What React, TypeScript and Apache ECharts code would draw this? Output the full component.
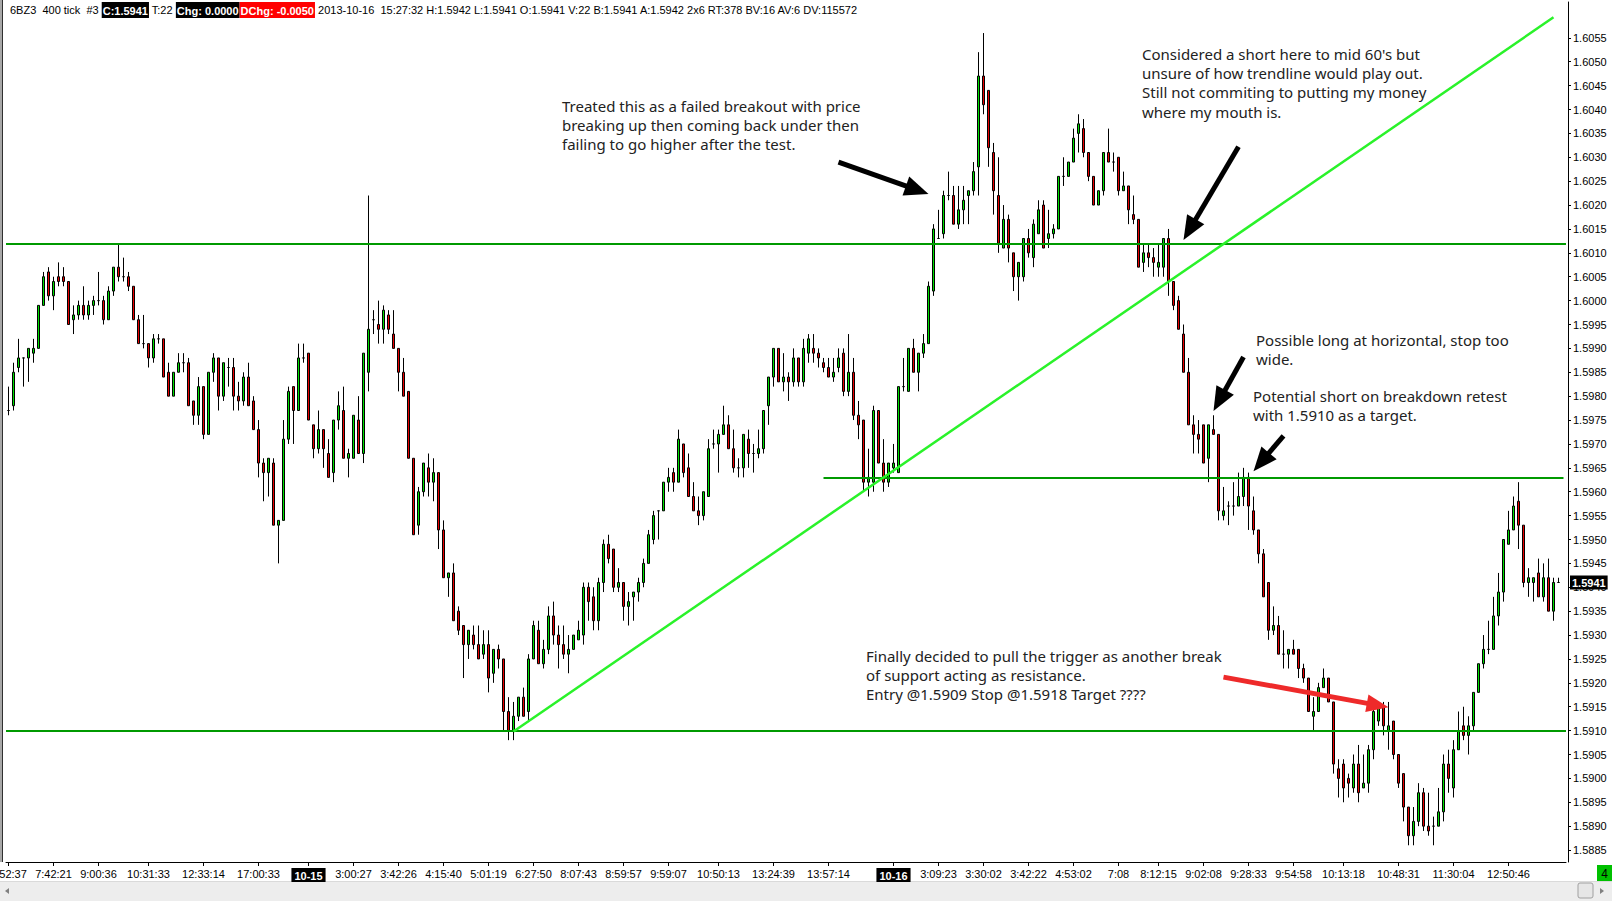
import React, { useEffect, useRef } from 'react';
import * as echarts from 'echarts';

const opens = [
  1.5977,1.5978,1.5986,1.5988,1.5988,1.5989,1.5990,1.5999,1.6006,1.6001,
  1.6005,1.6005,1.6004,1.5996,1.5997,1.5999,1.5997,1.5999,1.6000,1.6000,
  1.5996,1.6002,1.6007,1.6005,1.6005,1.6003,1.5996,1.5991,1.5991,1.5988,
  1.5992,1.5992,1.5985,1.5980,1.5985,1.5987,1.5987,1.5979,1.5976,1.5982,
  1.5972,1.5985,1.5988,1.5980,1.5986,1.5986,1.5980,1.5979,1.5984,1.5979,
  1.5973,1.5966,1.5964,1.5966,1.5953,1.5954,1.5971,1.5982,1.5977,1.5988,
  1.5989,1.5974,1.5969,1.5973,1.5968,1.5964,1.5975,1.5977,1.5967,1.5967,
  1.5975,1.5968,1.5985,1.5996,1.5995,1.5994,1.5997,1.5993,1.5990,1.5985,
  1.5981,1.5967,1.5953,1.5960,1.5965,1.5962,1.5964,1.5952,1.5942,1.5943,
  1.5935,1.5932,1.5928,1.5930,1.5928,1.5926,1.5928,1.5922,1.5927,1.5925,
  1.5914,1.5910,1.5913,1.5917,1.5914,1.5925,1.5931,1.5924,1.5927,1.5934,
  1.5930,1.5928,1.5926,1.5927,1.5929,1.5930,1.5940,1.5938,1.5933,1.5941,
  1.5949,1.5948,1.5940,1.5941,1.5936,1.5938,1.5939,1.5941,1.5945,1.5950,
  1.5956,1.5956,1.5962,1.5964,1.5962,1.5970,1.5965,1.5959,1.5956,1.5955,
  1.5959,1.5970,1.5970,1.5972,1.5974,1.5969,1.5965,1.5965,1.5971,1.5968,
  1.5968,1.5969,1.5978,1.5984,1.5990,1.5983,1.5984,1.5983,1.5988,1.5983,
  1.5989,1.5990,1.5989,1.5987,1.5986,1.5984,1.5986,1.5989,1.5981,1.5985,
  1.5976,1.5975,1.5962,1.5962,1.5977,1.5966,1.5962,1.5965,1.5964,1.5982,
  1.5981,1.5990,1.5985,1.5989,1.5991,1.6002,1.6013,1.6014,1.6022,1.6022,
  1.6016,1.6019,1.6022,1.6023,1.6028,1.6047,1.6044,1.6031,1.6022,1.6011,
  1.6017,1.6010,1.6005,1.6005,1.6013,1.6009,1.6014,1.6020,1.6013,1.6014,
  1.6015,1.6026,1.6026,1.6029,1.6035,1.6036,1.6031,1.6026,1.6020,1.6023,
  1.6031,1.6029,1.6030,1.6023,1.6024,1.6018,1.6017,1.6008,1.6010,1.6009,
  1.6007,1.6007,1.6013,1.6004,1.6000,1.5993,1.5985,1.5974,1.5972,1.5974,
  1.5967,1.5973,1.5972,1.5955,1.5957,1.5957,1.5957,1.5959,1.5963,1.5956,
  1.5952,1.5947,1.5941,1.5931,1.5932,1.5926,1.5926,1.5927,1.5927,1.5923,
  1.5921,1.5913,1.5914,1.5919,1.5921,1.5916,1.5902,1.5903,1.5900,1.5898,
  1.5903,1.5898,1.5899,1.5906,1.5912,1.5915,1.5910,1.5912,1.5905,1.5901,
  1.5894,1.5888,1.5891,1.5897,1.5890,1.5890,1.5890,1.5893,1.5903,1.5898,
  1.5906,1.5911,1.5909,1.5911,1.5918,1.5924,1.5927,1.5927,1.5934,1.5939,
  1.5949,1.5952,1.5958,1.5953,1.5941,1.5941,1.5943,1.5938,1.5942,1.5935,
  1.5941,
];

const closes = [
  1.5977,1.5985,1.5988,1.5988,1.5990,1.5990,1.5999,1.6005,1.6001,1.6004,
  1.6004,1.6004,1.5995,1.5997,1.5999,1.5997,1.5999,1.6000,1.6000,1.5996,
  1.6002,1.6007,1.6005,1.6005,1.6003,1.5996,1.5991,1.5991,1.5988,1.5992,
  1.5992,1.5984,1.5980,1.5985,1.5987,1.5987,1.5978,1.5976,1.5982,1.5972,
  1.5985,1.5988,1.5980,1.5987,1.5986,1.5980,1.5979,1.5984,1.5978,1.5973,
  1.5966,1.5964,1.5967,1.5953,1.5954,1.5971,1.5981,1.5977,1.5988,1.5988,
  1.5975,1.5969,1.5973,1.5969,1.5963,1.5975,1.5978,1.5967,1.5968,1.5976,
  1.5968,1.5989,1.5994,1.5996,1.5994,1.5998,1.5994,1.5990,1.5985,1.5980,
  1.5967,1.5951,1.5960,1.5966,1.5962,1.5964,1.5952,1.5942,1.5943,1.5933,
  1.5931,1.5928,1.5931,1.5928,1.5925,1.5928,1.5921,1.5927,1.5925,1.5914,
  1.5910,1.5913,1.5917,1.5913,1.5925,1.5932,1.5924,1.5927,1.5934,1.5930,
  1.5928,1.5926,1.5927,1.5930,1.5931,1.5940,1.5937,1.5933,1.5941,1.5949,
  1.5946,1.5940,1.5941,1.5936,1.5937,1.5939,1.5941,1.5945,1.5951,1.5955,
  1.5956,1.5962,1.5963,1.5962,1.5971,1.5964,1.5959,1.5956,1.5955,1.5960,
  1.5969,1.5970,1.5972,1.5974,1.5969,1.5965,1.5965,1.5972,1.5968,1.5968,
  1.5969,1.5977,1.5984,1.5990,1.5983,1.5984,1.5983,1.5988,1.5983,1.5990,
  1.5992,1.5989,1.5988,1.5986,1.5984,1.5985,1.5988,1.5981,1.5985,1.5976,
  1.5974,1.5962,1.5963,1.5977,1.5966,1.5962,1.5966,1.5966,1.5982,1.5982,
  1.5990,1.5985,1.5989,1.5991,1.6003,1.6015,1.6013,1.6022,1.6022,1.6016,
  1.6019,1.6021,1.6023,1.6027,1.6047,1.6041,1.6032,1.6023,1.6012,1.6017,
  1.6011,1.6005,1.6008,1.6013,1.6010,1.6016,1.6019,1.6011,1.6014,1.6015,
  1.6026,1.6026,1.6029,1.6034,1.6037,1.6031,1.6026,1.6020,1.6023,1.6031,
  1.6029,1.6029,1.6023,1.6024,1.6019,1.6017,1.6007,1.6010,1.6009,1.6008,
  1.6008,1.6013,1.6004,1.5999,1.5994,1.5985,1.5974,1.5972,1.5971,1.5966,
  1.5974,1.5972,1.5956,1.5956,1.5957,1.5957,1.5959,1.5963,1.5957,1.5952,
  1.5947,1.5938,1.5931,1.5932,1.5926,1.5926,1.5927,1.5926,1.5923,1.5921,
  1.5914,1.5914,1.5919,1.5921,1.5916,1.5903,1.5900,1.5898,1.5899,1.5903,
  1.5897,1.5899,1.5906,1.5914,1.5915,1.5911,1.5911,1.5905,1.5899,1.5894,
  1.5888,1.5891,1.5897,1.5890,1.5889,1.5890,1.5893,1.5903,1.5900,1.5906,
  1.5910,1.5909,1.5911,1.5918,1.5924,1.5927,1.5927,1.5934,1.5939,1.5950,
  1.5952,1.5957,1.5953,1.5941,1.5942,1.5942,1.5938,1.5942,1.5935,1.5941,
  1.5941,
];

const lows = [
  1.5976,1.5977,1.5985,1.5982,1.5983,1.5987,1.5990,1.5999,1.6000,1.5998,
  1.6003,1.6003,1.5995,1.5993,1.5996,1.5996,1.5996,1.5997,1.5999,1.5995,
  1.5996,1.6001,1.6004,1.6004,1.6002,1.5996,1.5991,1.5990,1.5986,1.5987,
  1.5991,1.5984,1.5980,1.5980,1.5985,1.5985,1.5978,1.5974,1.5974,1.5971,
  1.5972,1.5983,1.5977,1.5979,1.5982,1.5977,1.5977,1.5978,1.5978,1.5973,
  1.5963,1.5958,1.5959,1.5953,1.5945,1.5954,1.5970,1.5970,1.5977,1.5987,
  1.5975,1.5967,1.5968,1.5965,1.5963,1.5962,1.5973,1.5967,1.5963,1.5967,
  1.5968,1.5966,1.5981,1.5993,1.5991,1.5991,1.5993,1.5990,1.5981,1.5980,
  1.5967,1.5951,1.5951,1.5959,1.5959,1.5958,1.5948,1.5942,1.5938,1.5933,
  1.5930,1.5921,1.5925,1.5927,1.5925,1.5925,1.5918,1.5920,1.5923,1.5910,
  1.5908,1.5908,1.5912,1.5913,1.5912,1.5925,1.5924,1.5923,1.5926,1.5928,
  1.5923,1.5925,1.5922,1.5927,1.5929,1.5928,1.5933,1.5931,1.5931,1.5939,
  1.5945,1.5939,1.5939,1.5933,1.5932,1.5933,1.5937,1.5940,1.5945,1.5949,
  1.5950,1.5956,1.5960,1.5960,1.5962,1.5963,1.5959,1.5956,1.5953,1.5954,
  1.5959,1.5969,1.5964,1.5972,1.5969,1.5964,1.5963,1.5963,1.5965,1.5964,
  1.5967,1.5968,1.5974,1.5982,1.5983,1.5981,1.5979,1.5982,1.5982,1.5982,
  1.5987,1.5987,1.5986,1.5985,1.5984,1.5983,1.5985,1.5980,1.5980,1.5975,
  1.5971,1.5960,1.5959,1.5960,1.5966,1.5960,1.5961,1.5964,1.5964,1.5981,
  1.5981,1.5985,1.5981,1.5988,1.5991,1.6001,1.6013,1.6013,1.6021,1.6016,
  1.6015,1.6016,1.6016,1.6022,1.6022,1.6039,1.6028,1.6018,1.6010,1.6011,
  1.6008,1.6002,1.6000,1.6004,1.6009,1.6007,1.6014,1.6011,1.6011,1.6013,
  1.6015,1.6024,1.6026,1.6029,1.6031,1.6030,1.6025,1.6020,1.6020,1.6022,
  1.6029,1.6027,1.6022,1.6023,1.6016,1.6016,1.6007,1.6006,1.6007,1.6005,
  1.6005,1.6005,1.6001,1.5998,1.5994,1.5985,1.5974,1.5968,1.5968,1.5966,
  1.5962,1.5972,1.5954,1.5954,1.5953,1.5955,1.5957,1.5957,1.5952,1.5951,
  1.5945,1.5938,1.5929,1.5930,1.5926,1.5923,1.5923,1.5926,1.5921,1.5920,
  1.5914,1.5910,1.5914,1.5919,1.5916,1.5901,1.5896,1.5895,1.5896,1.5897,
  1.5895,1.5898,1.5897,1.5904,1.5911,1.5909,1.5906,1.5904,1.5898,1.5891,
  1.5886,1.5886,1.5890,1.5889,1.5888,1.5886,1.5890,1.5891,1.5897,1.5896,
  1.5906,1.5908,1.5905,1.5910,1.5918,1.5923,1.5926,1.5927,1.5932,1.5937,
  1.5949,1.5952,1.5948,1.5940,1.5938,1.5937,1.5938,1.5937,1.5935,1.5933,
  1.5941,
];

const highs = [
  1.5982,1.5987,1.5992,1.5988,1.5990,1.5992,1.5999,1.6006,1.6007,1.6005,
  1.6008,1.6007,1.6004,1.5999,1.6000,1.6003,1.6000,1.6001,1.6006,1.6001,
  1.6003,1.6007,1.6012,1.6009,1.6006,1.6003,1.5997,1.5997,1.5991,1.5993,
  1.5993,1.5992,1.5987,1.5985,1.5989,1.5989,1.5988,1.5979,1.5984,1.5982,
  1.5985,1.5989,1.5988,1.5987,1.5988,1.5988,1.5983,1.5985,1.5987,1.5980,
  1.5975,1.5967,1.5967,1.5967,1.5954,1.5975,1.5982,1.5982,1.5991,1.5991,
  1.5989,1.5974,1.5977,1.5973,1.5971,1.5975,1.5981,1.5982,1.5969,1.5976,
  1.5980,1.5989,1.6022,1.5998,1.6000,1.5999,1.5998,1.5998,1.5990,1.5988,
  1.5981,1.5967,1.5961,1.5966,1.5968,1.5967,1.5964,1.5954,1.5943,1.5945,
  1.5936,1.5932,1.5931,1.5932,1.5932,1.5931,1.5931,1.5927,1.5928,1.5925,
  1.5917,1.5916,1.5917,1.5919,1.5926,1.5933,1.5933,1.5929,1.5936,1.5937,
  1.5932,1.5932,1.5930,1.5930,1.5933,1.5941,1.5941,1.5940,1.5942,1.5950,
  1.5951,1.5948,1.5944,1.5941,1.5939,1.5939,1.5942,1.5946,1.5952,1.5956,
  1.5956,1.5962,1.5965,1.5965,1.5973,1.5970,1.5968,1.5962,1.5959,1.5960,
  1.5971,1.5973,1.5973,1.5978,1.5976,1.5973,1.5967,1.5972,1.5973,1.5970,
  1.5973,1.5977,1.5984,1.5990,1.5990,1.5989,1.5985,1.5990,1.5988,1.5992,
  1.5993,1.5993,1.5990,1.5988,1.5988,1.5988,1.5990,1.5990,1.5993,1.5988,
  1.5979,1.5975,1.5969,1.5978,1.5977,1.5971,1.5966,1.5970,1.5982,1.5988,
  1.5990,1.5992,1.5989,1.5993,1.6004,1.6016,1.6019,1.6023,1.6027,1.6024,
  1.6024,1.6024,1.6023,1.6029,1.6052,1.6056,1.6044,1.6033,1.6030,1.6020,
  1.6018,1.6010,1.6008,1.6013,1.6015,1.6017,1.6021,1.6021,1.6019,1.6016,
  1.6026,1.6030,1.6029,1.6036,1.6039,1.6038,1.6031,1.6026,1.6023,1.6031,
  1.6036,1.6031,1.6030,1.6027,1.6024,1.6022,1.6017,1.6012,1.6012,1.6011,
  1.6012,1.6013,1.6015,1.6004,1.6001,1.5995,1.5988,1.5976,1.5975,1.5974,
  1.5974,1.5976,1.5972,1.5961,1.5958,1.5962,1.5964,1.5965,1.5964,1.5959,
  1.5952,1.5948,1.5941,1.5936,1.5934,1.5931,1.5927,1.5929,1.5927,1.5924,
  1.5921,1.5917,1.5920,1.5923,1.5921,1.5916,1.5904,1.5904,1.5901,1.5905,
  1.5907,1.5905,1.5907,1.5916,1.5916,1.5916,1.5916,1.5912,1.5905,1.5901,
  1.5894,1.5894,1.5899,1.5898,1.5897,1.5892,1.5898,1.5905,1.5906,1.5908,
  1.5914,1.5915,1.5913,1.5918,1.5924,1.5930,1.5933,1.5938,1.5943,1.5950,
  1.5956,1.5959,1.5962,1.5953,1.5944,1.5942,1.5946,1.5945,1.5946,1.5942,
  1.5942,
];

const tickIndex = [0, 9, 18, 28, 39, 50, 60, 69, 78, 87, 96, 105, 114, 123, 132, 142, 153, 164, 177, 186, 195, 204, 213, 222, 230, 239, 248, 257, 267, 278, 289, 300];
const tickText = ['6:52:37', '7:42:21', '9:00:36', '10:31:33', '12:33:14', '17:00:33', '10-15', '3:00:27', '3:42:26', '4:15:40', '5:01:19', '6:27:50', '8:07:43', '8:59:57', '9:59:07', '10:50:13', '13:24:39', '13:57:14', '10-16', '3:09:23', '3:30:02', '3:42:22', '4:53:02', '7:08', '8:12:15', '9:02:08', '9:28:33', '9:54:58', '10:13:18', '10:48:31', '11:30:04', '12:50:46'];

const yTicks = [
  1.5885, 1.5890, 1.5895, 1.5900, 1.5905, 1.5910, 1.5915, 1.5920, 1.5925, 1.5930,
  1.5935, 1.5940, 1.5945, 1.5950, 1.5955, 1.5960, 1.5965, 1.5970, 1.5975, 1.5980,
  1.5985, 1.5990, 1.5995, 1.6000, 1.6005, 1.6010, 1.6015, 1.6020, 1.6025, 1.6030,
  1.6035, 1.6040, 1.6045, 1.6050, 1.6055,
];

const levelHigh = 1.6012;
const levelMid = 1.5963;
const levelMidStart = 163;
const levelLow = 1.5910;
const trendStart = [101, 1.59098];
const trendEnd = [309, 1.60593];
const lastPrice = 1.5941;

const headerParts = [
  ['n', '6BZ3  400 tick  #3 '],
  ['b', 'C:1.5941'],
  ['n', ' T:22 '],
  ['b', 'Chg: 0.0000'],
  ['r', 'DChg: -0.0050'],
  ['n', ' 2013-10-16  15:27:32 H:1.5942 L:1.5941 O:1.5941 V:22 B:1.5941 A:1.5942 2x6 RT:378 BV:16 AV:6 DV:115572'],
];

const notes = [
  { x: 562, y: 96, lines: ['Treated this as a failed breakout with price', 'breaking up then coming back under then', 'failing to go higher after the test.'] },
  { x: 1142, y: 44, lines: ["Considered a short here to mid 60's but", 'unsure of how trendline would play out.', 'Still not commiting to putting my money', 'where my mouth is.'] },
  { x: 1256, y: 330, lines: ['Possible long at horizontal, stop too', 'wide.'] },
  { x: 1253, y: 386, lines: ['Potential short on breakdown retest', 'with 1.5910 as a target.'] },
  { x: 866, y: 646, lines: ['Finally decided to pull the trigger as another break', 'of support acting as resistance.', 'Entry @1.5909 Stop @1.5918 Target ????'] },
];

// arrows in data coordinates: [startIndex, startPrice, endIndex, endPrice, colour]
const arrows = [
  [166, 1.60290, 184, 1.60223, '#000000'],
  [246, 1.60322, 235, 1.60127, '#000000'],
  [247, 1.59882, 241, 1.59769, '#000000'],
  [255, 1.59717, 249, 1.59643, '#000000'],
  [243, 1.59212, 276, 1.59149, '#ee2a2a'],
];

const FONT = 'Liberation Sans, Arial, sans-serif';
const NOTE_FONT = '15px "Noto Sans", "Open Sans", sans-serif';

export default function App() {
  const ref = useRef<HTMLDivElement>(null);
  useEffect(() => {
    const el = ref.current;
    if (!el) return;
    const chart = echarts.init(el, null, { renderer: 'svg' });
    const n = opens.length;
    const cats = Array.from({ length: n + 1 }, (_, i) => String(i));
    const tickSet = new Set(tickIndex);
    const data = opens.map((o, i) => [o, closes[i], lows[i], highs[i]]);
    const green = { color: '#009a00', width: 2, type: 'solid' };
    const trend = { color: '#2af22a', width: 2.5, type: 'solid' };

    chart.setOption({
      animation: false,
      backgroundColor: '#ffffff',
      grid: { left: 6, right: 46, top: 2, bottom: 39, containLabel: false, outerBoundsMode: 'none' },
      xAxis: {
        type: 'category',
        data: cats,
        boundaryGap: true,
        axisLine: { show: true, onZero: false, lineStyle: { color: '#000', width: 1 } },
        axisTick: { show: true, alignWithLabel: true, interval: (i: number) => tickSet.has(i), length: 4, lineStyle: { color: '#000' } },
        axisLabel: {
          interval: (i: number) => tickSet.has(i),
          formatter: (_v: string, i: number) => {
            const t = tickIndex.indexOf(i);
            if (t < 0) return '';
            const s = tickText[t];
            return s.indexOf('-') >= 0 ? `{d|${s}}` : s;
          },
          color: '#000',
          fontSize: 11,
          fontFamily: FONT,
          margin: 6,
          rich: {
            d: { backgroundColor: '#000', color: '#fff', fontWeight: 'bold', fontSize: 11, fontFamily: FONT, padding: [2, 3, 1, 3] },
          },
        },
        splitLine: { show: false },
      },
      yAxis: {
        type: 'value',
        position: 'right',
        min: 1.58825,
        max: 1.60625,
        offset: 2,
        axisLine: { show: true, lineStyle: { color: '#000', width: 1 } },
        axisTick: { show: true, length: 3, customValues: yTicks, lineStyle: { color: '#000' } },
        axisLabel: { customValues: yTicks, formatter: (v: number) => v.toFixed(4), color: '#000', fontSize: 11, fontFamily: FONT, margin: 5 },
        splitLine: { show: false },
      },
      series: [
        {
          type: 'candlestick',
          data,
          barWidth: 3,
          itemStyle: {
            color: '#00e000',
            color0: '#e80000',
            borderColor: '#000',
            borderColor0: '#000',
            borderColorDoji: '#000',
            borderWidth: 1,
          },
          markLine: {
            silent: true,
            symbol: ['none', 'none'],
            precision: 5,
            animation: false,
            label: { show: false },
            data: [
              { yAxis: levelHigh, lineStyle: green },
              { yAxis: levelLow, lineStyle: green },
              [
                { coord: [levelMidStart, levelMid], lineStyle: green },
                { coord: [n, levelMid], lineStyle: green },
              ],
              [
                { coord: trendStart, lineStyle: trend },
                { coord: trendEnd, lineStyle: trend },
              ],
              {
                yAxis: lastPrice,
                lineStyle: { color: 'rgba(0,0,0,0)', width: 1 },
                label: {
                  show: true,
                  position: 'end',
                  distance: 4,
                  formatter: lastPrice.toFixed(4),
                  color: '#fff',
                  backgroundColor: '#000',
                  fontWeight: 'bold',
                  fontSize: 11,
                  fontFamily: FONT,
                  padding: [2, 2, 1, 2],
                },
              },
            ],
          },
        },
      ],
    });

    const g: any[] = [];
    // left border
    g.push({ type: 'rect', shape: { x: 0, y: 0, width: 2, height: 862 }, style: { fill: '#a8a8a8' }, silent: true });
    g.push({ type: 'line', shape: { x1: 2.5, y1: 0, x2: 2.5, y2: 862 }, style: { stroke: '#303030', lineWidth: 1 }, silent: true });
    // scrollbar strip
    g.push({ type: 'rect', shape: { x: 0, y: 881, width: 1612, height: 20 }, style: { fill: '#ededed' }, silent: true });
    g.push({ type: 'line', shape: { x1: 0, y1: 881.5, x2: 1612, y2: 881.5 }, style: { stroke: '#dadada', lineWidth: 1 }, silent: true });
    g.push({ type: 'rect', shape: { x: 1578, y: 883, width: 15, height: 15, r: 2 }, style: { fill: '#e6e6e6', stroke: '#a0a0a0', lineWidth: 1 }, silent: true });
    g.push({ type: 'polygon', shape: { points: [[5, 891], [9, 888], [9, 894]] }, style: { fill: '#808080' }, silent: true });
    g.push({ type: 'polygon', shape: { points: [[1604, 891], [1600, 888], [1600, 894]] }, style: { fill: '#808080' }, silent: true });
    // green box
    g.push({ type: 'rect', shape: { x: 1597, y: 865, width: 15, height: 16 }, style: { fill: '#00c000' }, silent: true });
    g.push({ type: 'text', x: 1604.5, y: 873.5, style: { text: '4', fill: '#000', font: `12px ${FONT}`, align: 'center', verticalAlign: 'middle', textAlign: 'center', textVerticalAlign: 'middle' }, silent: true });

    // header
    const headerText = headerParts.map(([k, s]) => `{${k}|${s}}`).join('');
    g.push({
      type: 'text', x: 10, y: 10, z: 50,
      style: {
        text: headerText,
        verticalAlign: 'middle',
        textVerticalAlign: 'middle',
        font: `11px ${FONT}`,
        fill: '#000',
        rich: {
          n: { fontSize: 11, fontFamily: FONT, fill: '#000' },
          b: { fontSize: 11, fontFamily: FONT, fill: '#ffffff', backgroundColor: '#000', fontWeight: 'bold', padding: [3, 1, 2, 1] },
          r: { fontSize: 11, fontFamily: FONT, fill: '#ffffff', backgroundColor: '#ff0000', fontWeight: 'bold', padding: [3, 1, 2, 1] },
        },
      },
      silent: true,
    });

    // notes
    notes.forEach((nt) => {
      g.push({
        type: 'text', x: nt.x, y: nt.y, z: 50,
        style: { text: nt.lines.join('\n'), font: NOTE_FONT, fill: '#222222', lineHeight: 19.3, verticalAlign: 'top', textVerticalAlign: 'top' },
        silent: true,
      });
    });

    // arrows
    arrows.forEach((a) => {
      const p0 = chart.convertToPixel({ gridIndex: 0 }, [a[0] as number, a[1] as number]) as number[];
      const p1 = chart.convertToPixel({ gridIndex: 0 }, [a[2] as number, a[3] as number]) as number[];
      if (!p0 || !p1) return;
      const color = a[4] as string;
      const dx = p1[0] - p0[0];
      const dy = p1[1] - p0[1];
      const len = Math.hypot(dx, dy) || 1;
      const ux = dx / len;
      const uy = dy / len;
      const headL = color === '#000000' ? 24 : 22;
      const headW = color === '#000000' ? 20 : 18;
      const bx = p1[0] - ux * headL;
      const by = p1[1] - uy * headL;
      const px = -uy;
      const py = ux;
      g.push({ type: 'line', z: 60, shape: { x1: p0[0], y1: p0[1], x2: bx + ux * 2, y2: by + uy * 2 }, style: { stroke: color, lineWidth: 5, lineCap: 'butt' }, silent: true });
      g.push({
        type: 'polygon', z: 60,
        shape: { points: [[p1[0], p1[1]], [bx + px * headW / 2, by + py * headW / 2], [bx - px * headW / 2, by - py * headW / 2]] },
        style: { fill: color }, silent: true,
      });
    });

    chart.setOption({ graphic: g });

    return () => chart.dispose();
  }, []);

  return <div ref={ref} style={{ position: 'fixed', left: 0, top: 0, width: 1612, height: 901, background: '#fff' }} />;
}
